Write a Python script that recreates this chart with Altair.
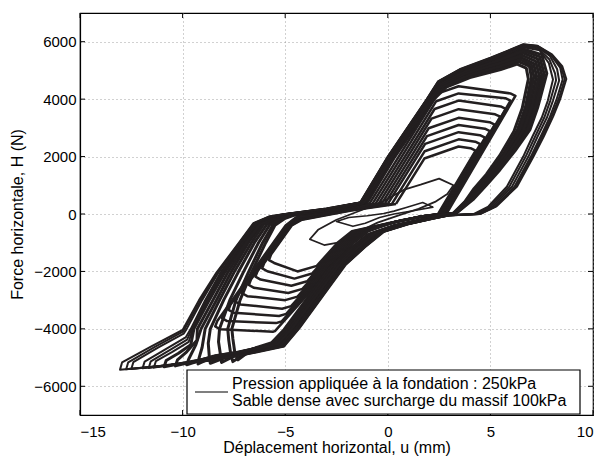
import altair as alt
import pandas as pd

# ---- axis ticks ----
x_ticks = [-15, -10, -5, 0, 5, 10]
y_ticks = [-6000, -4000, -2000, 0, 2000, 4000, 6000]

# ---- small loops ----
s1_u = [0.3, 0.9, 1.7, 2.2, 1.3, 0.3, -0.4, -1.1, -1.7, -2.5, -1.9, -1.0, -0.2, 0.3]
s1_h = [100, 230, 400, 240, 120, 0, -120, -320, -430, -260, -120, -60, 20, 100]
s2_u = [-1.3, -0.2, 0.8, 1.6, 2.5, 3.2, 2.9, 2.3, 1.5, 0.6, -0.5, -1.3, -2.1, -3.1, -3.8, -3.4, -2.5, -1.3]
s2_h = [130, 450, 850, 1020, 1230, 1000, 700, 420, 180, -30, -300, -580, -950, -1080, -880, -550, -200, 130]

# ---- chevron loops (growing amplitude) ----
c1_u = [0.4, 1.78, 3.45, 4.03, 4.28, 2.45, 1.9, 0.6, -1.75, -2.45, -3.46, -4.4, -5.54, -5.79, -5.69, -4.68, -4.18, -3.28, -1.78, 0.4]
c1_h = [350, 1931, 2350, 2292, 2207, 0, -60, -230, -600, -1000, -1807, -2000, -1705, -1605, -1415, -400, -200, -80, 120, 350]
c2_u = [0.2, 1.8, 3.45, 4.26, 4.51, 2.5, 1.85, 0.55, -1.65, -2.35, -3.69, -4.55, -5.87, -6.12, -6.02, -4.72, -4.22, -3.32, -1.82, 0.2]
c2_h = [350, 2187, 2600, 2519, 2434, 0, -65, -240, -600, -1000, -2074, -2250, -1994, -1894, -1704, -400, -190, -70, 130, 350]
c3_u = [0.0, 1.82, 3.45, 4.49, 4.74, 2.55, 1.8, 0.5, -1.55, -2.25, -3.93, -4.7, -6.2, -6.45, -6.35, -4.76, -4.26, -3.36, -1.86, 0.0]
c3_h = [350, 2442, 2850, 2746, 2661, 0, -70, -250, -600, -1000, -2342, -2500, -2283, -2183, -1993, -400, -180, -60, 140, 350]
c4_u = [-0.15, 1.91, 3.45, 4.73, 4.98, 2.6, 1.75, 0.45, -1.45, -2.15, -4.16, -4.85, -6.52, -6.77, -6.67, -4.79, -4.29, -3.39, -1.89, -0.15]
c4_h = [350, 2714, 3100, 2972, 2887, 0, -75, -260, -600, -1000, -2609, -2750, -2572, -2472, -2282, -400, -170, -50, 150, 350]
c5_u = [-0.3, 1.99, 3.45, 4.96, 5.21, 2.65, 1.7, 0.4, -1.35, -2.05, -4.4, -5.0, -6.85, -7.1, -7.0, -4.83, -4.33, -3.43, -1.93, -0.3]
c5_h = [350, 2985, 3350, 3199, 3114, 0, -80, -270, -600, -1000, -2876, -3000, -2861, -2761, -2571, -400, -160, -40, 160, 350]
c6_u = [-0.45, 2.13, 3.45, 5.23, 5.48, 2.7, 1.65, 0.35, -1.25, -1.95, -4.71, -5.15, -7.18, -7.43, -7.33, -4.87, -4.37, -3.47, -1.97, -0.45]
c6_h = [350, 3321, 3650, 3472, 3387, 0, -85, -280, -600, -1000, -3210, -3300, -3150, -3050, -2860, -400, -150, -30, 170, 350]
c7_u = [-0.6, 2.28, 3.45, 5.5, 5.75, 2.75, 1.6, 0.3, -1.15, -1.85, -4.95, -5.3, -7.51, -7.76, -7.66, -4.91, -4.41, -3.51, -2.01, -0.6]
c7_h = [350, 3656, 3950, 3745, 3660, 0, -90, -290, -600, -1000, -3478, -3550, -3439, -3339, -3149, -400, -140, -20, 180, 350]
c8_u = [-0.75, 2.36, 3.45, 5.73, 5.98, 2.8, 1.55, 0.25, -1.05, -1.75, -5.18, -5.45, -7.83, -8.08, -7.98, -4.94, -4.44, -3.54, -2.04, -0.75]
c8_h = [350, 3928, 4200, 4034, 3949, 0, -95, -300, -600, -1000, -3745, -3800, -3728, -3628, -3438, -400, -130, -10, 190, 350]
c9_u = [-0.9, 2.45, 3.45, 5.97, 6.22, 2.85, 1.5, 0.2, -0.95, -1.65, -5.5, -5.6, -8.16, -8.41, -8.31, -4.98, -4.48, -3.58, -2.08, -0.9]
c9_h = [350, 4199, 4450, 4199, 4114, 0, -100, -310, -600, -1000, -4079, -4100, -4017, -3917, -3727, -400, -120, 0, 200, 350]

# ---- outer loops (ratcheting negative tips) ----
o1_u = [-1.05, 0.3, 2.2, 2.8, 4.0, 5.5, 6.4, 6.9, 7.0, 6.7, 6.3, 5.6, 4.95, 4.3, 3.8, 3.2, 2.3, 1.6, 0.3, -0.95, -1.85, -2.8, -3.95, -5.0, -5.7, -6.7, -7.55, -7.65, -7.75, -7.8, -7.4, -6.8, -6.1, -5.6, -5.05, -4.6, -3.5, -2.5, -1.05]
o1_h = [400, 2000, 4000, 4450, 4800, 5100, 5300, 5150, 4750, 3700, 2900, 2050, 1400, 900, 440, 10, -55, -210, -410, -720, -1250, -1880, -3000, -4030, -4520, -4750, -5140, -4900, -4400, -4000, -3000, -2040, -1000, -380, -140, -30, 70, 160, 400]
o1b_u = [-1.0, 0.35, 2.25, 2.85, 4.0, 5.5, 6.3, 6.75, 6.85, 6.55, 6.15, 5.45, 4.8, 4.2, 3.75, 3.15, 2.25, 1.55, 0.25, -1.0, -1.9, -2.85, -4.0, -5.05, -5.65, -6.6, -7.3, -7.45, -7.55, -7.6, -7.2, -6.65, -5.95, -5.5, -5.0, -4.55, -3.45, -2.45, -1.0]
o1b_h = [400, 2000, 4000, 4420, 4750, 5030, 5220, 5080, 4700, 3680, 2880, 2030, 1380, 880, 420, 0, -60, -220, -420, -730, -1260, -1890, -3010, -4020, -4480, -4700, -5080, -4850, -4350, -4000, -3000, -2040, -1000, -390, -150, -40, 60, 150, 400]
o2_u = [-1.1, 0.25, 2.15, 2.7, 3.9, 5.5, 6.5, 7.1, 7.25, 6.9, 6.5, 5.8, 5.1, 4.45, 3.9, 3.25, 2.4, 1.7, 0.4, -0.8, -1.7, -2.65, -3.8, -4.9, -5.6, -7.2, -8.65, -8.7, -8.75, -8.65, -8.0, -7.3, -6.5, -5.9, -5.3, -4.7, -3.6, -2.6, -1.1]
o2_h = [400, 2000, 4000, 4500, 4880, 5200, 5450, 5250, 4800, 3700, 2900, 2100, 1450, 920, 460, 20, -50, -200, -400, -700, -1230, -1860, -2980, -4020, -4540, -4800, -5200, -4950, -4500, -4000, -3000, -2040, -1000, -370, -130, -25, 75, 165, 400]
o2b_u = [-1.08, 0.28, 2.18, 2.75, 3.95, 5.5, 6.45, 7.0, 7.12, 6.8, 6.4, 5.7, 5.02, 4.38, 3.85, 3.22, 2.35, 1.65, 0.35, -0.88, -1.78, -2.72, -3.88, -4.95, -5.65, -7.0, -8.1, -8.15, -8.25, -8.2, -7.7, -7.05, -6.3, -5.75, -5.2, -4.65, -3.55, -2.55, -1.08]
o2b_h = [400, 2000, 4000, 4480, 4840, 5150, 5380, 5200, 4780, 3700, 2900, 2080, 1430, 910, 450, 15, -52, -205, -405, -710, -1240, -1870, -2990, -4025, -4530, -4780, -5170, -4920, -4450, -4000, -3000, -2040, -1000, -375, -135, -28, 72, 162, 400]
o3_u = [-1.15, 0.2, 2.1, 2.6, 3.8, 5.4, 6.6, 7.3, 7.5, 7.1, 6.7, 6.0, 5.3, 4.6, 4.0, 3.3, 2.5, 1.8, 0.55, -0.65, -1.55, -2.5, -3.65, -4.75, -5.5, -7.1, -8.5, -9.8, -9.7, -9.35, -9.1, -8.35, -7.65, -6.8, -6.15, -5.5, -4.8, -3.7, -2.7, -1.15]
o3_h = [400, 2000, 4000, 4550, 4950, 5300, 5600, 5400, 4850, 3700, 2900, 2150, 1500, 950, 480, 30, -45, -190, -390, -680, -1210, -1840, -2960, -4010, -4560, -4800, -4950, -5250, -5050, -4550, -4000, -3000, -2040, -1000, -350, -120, -20, 80, 170, 400]
o3b_u = [-1.13, 0.22, 2.12, 2.65, 3.85, 5.45, 6.55, 7.2, 7.38, 7.0, 6.6, 5.9, 5.2, 4.52, 3.95, 3.28, 2.45, 1.75, 0.48, -0.72, -1.62, -2.58, -3.72, -4.82, -5.55, -7.15, -8.4, -9.25, -9.2, -9.05, -8.9, -8.2, -7.5, -6.65, -6.05, -5.4, -4.75, -3.65, -2.65, -1.13]
o3b_h = [400, 2000, 4000, 4520, 4920, 5250, 5520, 5320, 4820, 3700, 2900, 2120, 1470, 935, 470, 25, -48, -195, -395, -690, -1220, -1850, -2970, -4015, -4550, -4800, -4940, -5220, -5020, -4650, -4000, -3000, -2040, -1000, -360, -125, -22, 78, 168, 400]
o4_u = [-1.2, 0.15, 2.05, 2.55, 3.7, 5.3, 6.6, 7.5, 7.75, 7.3, 6.93, 6.2, 5.47, 4.8, 4.15, 3.36, 2.6, 1.9, 0.7, -0.5, -1.4, -2.35, -3.5, -4.6, -5.35, -7.0, -8.7, -10.9, -10.8, -10.2, -9.6, -9.45, -8.7, -7.95, -7.0, -6.3, -5.6, -4.9, -3.8, -2.8, -1.2]
o4_h = [400, 2000, 4000, 4580, 5000, 5380, 5750, 5550, 4900, 3700, 2940, 2200, 1545, 1000, 500, 40, -40, -180, -380, -660, -1190, -1820, -2940, -4000, -4580, -4820, -5020, -5320, -5100, -4850, -4550, -4000, -3000, -2040, -1000, -340, -110, -15, 85, 175, 400]
o4b_u = [-1.18, 0.17, 2.07, 2.58, 3.75, 5.35, 6.6, 7.4, 7.62, 7.2, 6.82, 6.1, 5.38, 4.7, 4.08, 3.33, 2.55, 1.85, 0.62, -0.58, -1.48, -2.42, -3.58, -4.68, -5.42, -7.05, -8.6, -10.35, -10.25, -9.8, -9.3, -9.28, -8.52, -7.8, -6.9, -6.22, -5.55, -4.85, -3.75, -2.75, -1.18]
o4b_h = [400, 2000, 4000, 4565, 4975, 5340, 5680, 5480, 4870, 3700, 2920, 2170, 1520, 975, 490, 35, -42, -185, -385, -670, -1200, -1830, -2950, -4005, -4570, -4810, -4990, -5290, -5080, -4800, -4400, -4000, -3000, -2040, -1000, -345, -115, -18, 82, 172, 400]
o5_u = [-1.3, 0.05, 1.95, 2.5, 3.6, 5.1, 6.6, 7.3, 7.9, 8.25, 8.35, 8.05, 7.75, 7.3, 6.85, 6.05, 5.1, 4.4, 3.0, 2.1, 0.85, -0.35, -1.25, -2.2, -3.35, -4.45, -5.2, -6.9, -8.6, -10.5, -11.95, -11.85, -10.8, -9.85, -9.6, -8.9, -8.15, -7.15, -6.45, -5.7, -5.0, -3.9, -2.9, -1.3]
o5_h = [400, 2000, 4000, 4600, 5020, 5420, 5870, 5820, 5500, 5050, 4650, 3950, 3350, 2700, 2000, 950, 260, 0, -50, -170, -370, -640, -1170, -1800, -2920, -3990, -4600, -4850, -5060, -5230, -5370, -5140, -4700, -4300, -4000, -3000, -2040, -1000, -330, -100, -10, 90, 180, 400]
o5b_u = [-1.25, 0.1, 2.0, 2.52, 3.65, 5.2, 6.6, 7.4, 7.85, 8.05, 7.8, 7.5, 7.05, 6.6, 5.8, 4.9, 4.2, 2.9, 2.0, 0.78, -0.42, -1.32, -2.28, -3.42, -4.52, -5.28, -6.95, -8.65, -10.2, -11.4, -11.3, -10.5, -9.7, -9.5, -8.8, -8.05, -7.08, -6.38, -5.65, -4.95, -3.85, -2.85, -1.25]
o5b_h = [400, 2000, 4000, 4590, 5010, 5400, 5810, 5700, 5250, 4680, 3950, 3350, 2700, 2000, 950, 260, 0, -45, -175, -375, -650, -1180, -1810, -2930, -3995, -4590, -4840, -5040, -5230, -5350, -5120, -4800, -4450, -4000, -3000, -2040, -1000, -335, -105, -12, 88, 178, 400]
o5c_u = [-1.28, 0.08, 1.98, 2.51, 3.62, 5.15, 6.6, 7.35, 7.88, 8.15, 8.2, 7.92, 7.62, 7.18, 6.72, 5.92, 5.0, 4.3, 2.95, 2.05, 0.82, -0.38, -1.28, -2.24, -3.38, -4.48, -5.24, -6.92, -8.62, -10.35, -11.65, -11.55, -10.65, -9.78, -9.55, -8.85, -8.1, -7.12, -6.42, -5.68, -4.98, -3.88, -2.88, -1.28]
o5c_h = [400, 2000, 4000, 4595, 5015, 5410, 5840, 5760, 5380, 4900, 4660, 3950, 3350, 2700, 2000, 950, 260, 0, -48, -172, -372, -645, -1175, -1805, -2925, -3992, -4595, -4845, -5050, -5230, -5360, -5130, -4750, -4375, -4000, -3000, -2040, -1000, -332, -102, -11, 89, 179, 400]
o6_u = [-1.35, 0.0, 1.9, 2.45, 3.5, 5.0, 6.6, 7.3, 8.0, 8.5, 8.7, 8.4, 8.06, 7.6, 7.1, 6.3, 5.3, 4.5, 3.0, 2.24, 1.0, -0.19, -1.1, -2.06, -3.2, -4.3, -5.05, -6.8, -8.6, -10.8, -13.05, -12.95, -11.5, -10.0, -9.2, -8.35, -7.25, -6.55, -5.8, -5.1, -4.0, -3.0, -1.35]
o6_h = [400, 2000, 4000, 4620, 5040, 5440, 5910, 5860, 5560, 5150, 4700, 4000, 3400, 2700, 2000, 960, 270, 0, -40, -160, -360, -624, -1150, -1780, -2900, -3977, -4612, -4880, -5100, -5280, -5420, -5170, -4600, -4040, -3000, -2040, -1000, -320, -90, -5, 100, 190, 400]
o6b_u = [-1.33, 0.02, 1.92, 2.47, 3.55, 5.05, 6.6, 7.3, 7.95, 8.4, 8.52, 8.22, 7.9, 7.45, 6.97, 6.18, 5.2, 4.45, 3.0, 2.17, 0.92, -0.27, -1.17, -2.13, -3.28, -4.38, -5.12, -6.85, -8.6, -10.6, -12.5, -12.4, -11.2, -9.95, -9.8, -9.05, -8.25, -7.2, -6.5, -5.75, -5.05, -3.95, -2.95, -1.33]
o6b_h = [400, 2000, 4000, 4610, 5030, 5430, 5890, 5840, 5530, 5100, 4680, 3980, 3380, 2700, 2000, 955, 265, 0, -45, -165, -365, -632, -1160, -1790, -2910, -3985, -4606, -4865, -5080, -5255, -5400, -5160, -4650, -4170, -4000, -3000, -2040, -1000, -325, -95, -8, 95, 185, 400]
o6c_u = [-1.34, 0.01, 1.91, 2.46, 3.52, 5.02, 6.6, 7.3, 7.98, 8.45, 8.62, 8.32, 7.98, 7.52, 7.04, 6.24, 5.25, 4.48, 3.0, 2.2, 0.96, -0.23, -1.13, -2.1, -3.24, -4.34, -5.08, -6.82, -8.6, -10.7, -12.75, -12.65, -11.35, -9.98, -9.58, -9.12, -8.3, -7.22, -6.52, -5.78, -5.08, -3.98, -2.98, -1.34]
o6c_h = [400, 2000, 4000, 4615, 5035, 5435, 5900, 5850, 5545, 5125, 4690, 3990, 3390, 2700, 2000, 958, 268, 0, -42, -162, -362, -628, -1155, -1785, -2905, -3981, -4609, -4872, -5090, -5268, -5410, -5165, -4625, -4100, -3600, -3000, -2040, -1000, -322, -92, -6, 98, 188, 400]

loops = [
    ("s1", s1_u, s1_h, 1.6), ("s2", s2_u, s2_h, 1.8),
    ("c1", c1_u, c1_h, 2.5), ("c2", c2_u, c2_h, 2.5), ("c3", c3_u, c3_h, 2.5),
    ("c4", c4_u, c4_h, 2.5), ("c5", c5_u, c5_h, 2.5), ("c6", c6_u, c6_h, 2.5),
    ("c7", c7_u, c7_h, 2.5), ("c8", c8_u, c8_h, 2.5), ("c9", c9_u, c9_h, 2.5),
    ("o1", o1_u, o1_h, 3.0), ("o1b", o1b_u, o1b_h, 3.0),
    ("o2", o2_u, o2_h, 3.0), ("o2b", o2b_u, o2b_h, 3.0),
    ("o3", o3_u, o3_h, 3.0), ("o3b", o3b_u, o3b_h, 3.0),
    ("o4", o4_u, o4_h, 3.0), ("o4b", o4b_u, o4b_h, 3.0),
    ("o5", o5_u, o5_h, 2.0), ("o5b", o5b_u, o5b_h, 2.0), ("o5c", o5c_u, o5c_h, 2.0),
    ("o6", o6_u, o6_h, 2.0), ("o6b", o6b_u, o6b_h, 2.0), ("o6c", o6c_u, o6c_h, 2.0),
]

rows = []
for name, us, hs, w in loops:
    assert len(us) == len(hs), name
    for i, (u, h) in enumerate(zip(us, hs)):
        rows.append({"loop": name, "i": i, "u": u, "h": h, "w": w})
df = pd.DataFrame(rows)

W, H = 513, 402
FONT = "Liberation Sans"

xscale = alt.Scale(domain=[-15, 10], nice=False, zero=False)
yscale = alt.Scale(domain=[-7000, 7000], nice=False, zero=False)

xaxis = alt.Axis(values=x_ticks, grid=True, ticks=False, labelPadding=9, format="d",
                 title="Déplacement horizontal, u (mm)", titleY=37, titleBaseline="alphabetic")
yaxis = alt.Axis(values=y_ticks, grid=True, ticks=False, labelPadding=4, format="d",
                 title="Force horizontale, H (N)", titlePadding=8)

lines = alt.Chart(df).mark_line(color="#231f20", strokeJoin="round").encode(
    x=alt.X("u:Q", scale=xscale, axis=xaxis),
    y=alt.Y("h:Q", scale=yscale, axis=yaxis),
    detail="loop:N",
    order="i:Q",
    strokeWidth=alt.StrokeWidth("w:Q", scale=None, legend=None),
)

xt = pd.DataFrame({"t": x_ticks})
yt = pd.DataFrame({"t": y_ticks})
xtick_b = alt.Chart(xt).mark_rule(color="black", strokeWidth=1).encode(
    x=alt.X("t:Q", scale=xscale), y=alt.value(H), y2=alt.value(H - 5))
xtick_t = alt.Chart(xt).mark_rule(color="black", strokeWidth=1).encode(
    x=alt.X("t:Q", scale=xscale), y=alt.value(0), y2=alt.value(5))
ytick_l = alt.Chart(yt).mark_rule(color="black", strokeWidth=1).encode(
    y=alt.Y("t:Q", scale=yscale), x=alt.value(0), x2=alt.value(5))
ytick_r = alt.Chart(yt).mark_rule(color="black", strokeWidth=1).encode(
    y=alt.Y("t:Q", scale=yscale), x=alt.value(W), x2=alt.value(W - 5))

one = pd.DataFrame({"a": [0]})
leg_box = alt.Chart(one).mark_rect(fill="white", stroke="black", strokeWidth=1.2).encode(
    x=alt.value(107), x2=alt.value(500), y=alt.value(357), y2=alt.value(401))
leg_line = alt.Chart(one).mark_rule(color="black", strokeWidth=1.2).encode(
    x=alt.value(115), x2=alt.value(148), y=alt.value(379))
leg_t1 = alt.Chart(one).mark_text(align="left", baseline="alphabetic", font=FONT, fontSize=16, color="black").encode(
    x=alt.value(152), y=alt.value(376), text=alt.value("Pression appliquée à la fondation : 250kPa"))
leg_t2 = alt.Chart(one).mark_text(align="left", baseline="alphabetic", font=FONT, fontSize=16, color="black").encode(
    x=alt.value(152), y=alt.value(393), text=alt.value("Sable dense avec surcharge du massif 100kPa"))

chart = alt.layer(lines, xtick_b, xtick_t, ytick_l, ytick_r, leg_box, leg_line, leg_t1, leg_t2).properties(
    width=W, height=H,
    autosize=alt.AutoSizeParams(type="none"),
    padding={"left": 72, "top": 5, "right": 1, "bottom": 41},
    background="white",
).configure_view(stroke="black", strokeWidth=1.2).configure_axis(
    labelFont=FONT, labelFontSize=15, labelColor="black",
    titleFont=FONT, titleFontSize=16, titleFontWeight="normal", titleColor="black",
    gridColor="#8c8c8c", gridDash=[1, 3], gridWidth=0.8,
    domainColor="black", domainWidth=1.2,
)

chart.save("out.html", embed_options={"renderer": "svg", "actions": False})
